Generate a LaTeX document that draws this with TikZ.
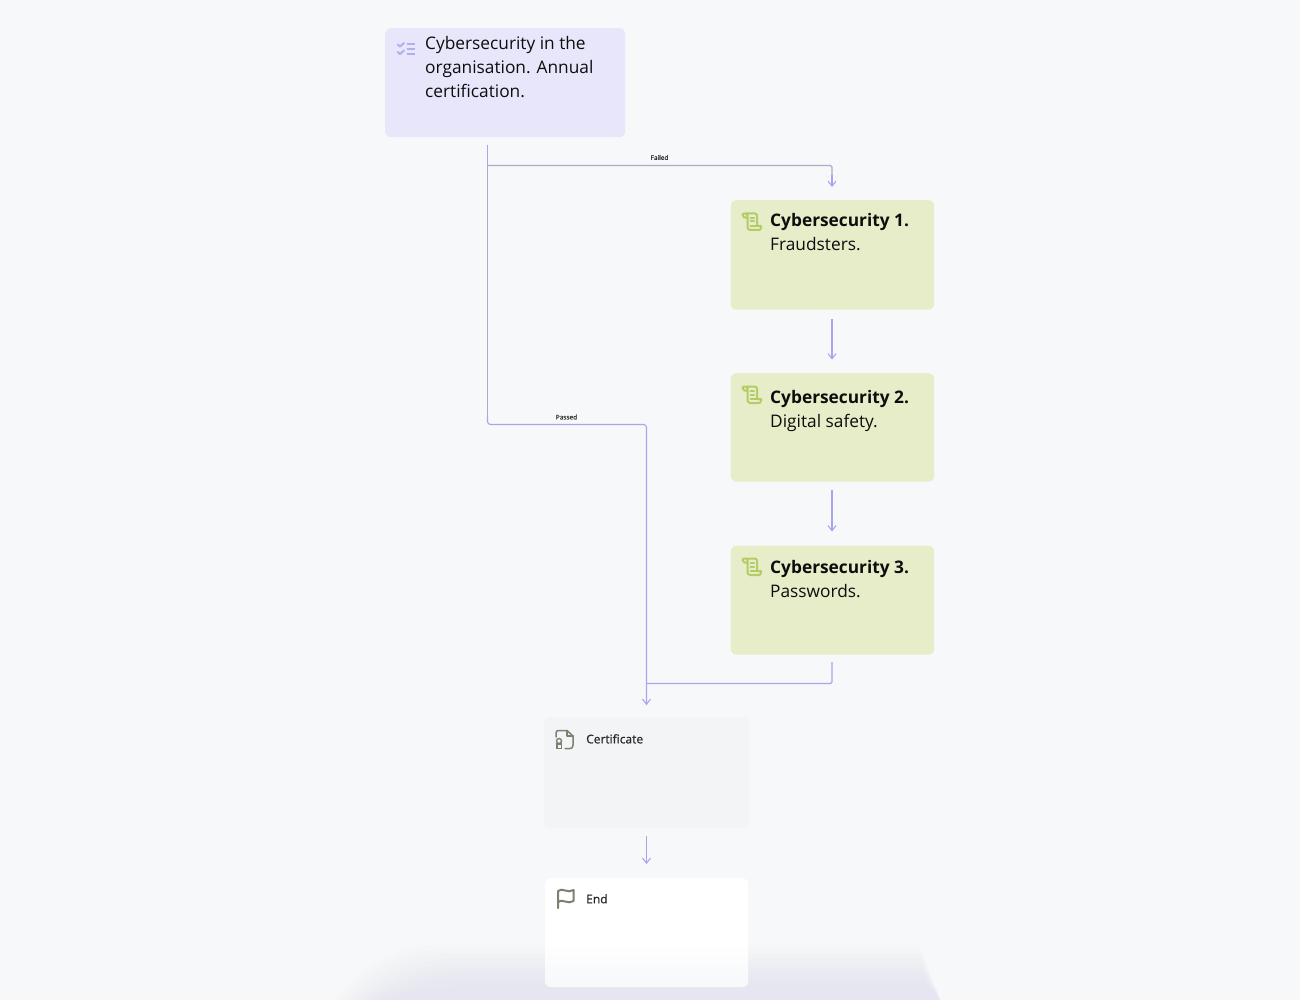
\documentclass[tikz,border=0pt]{standalone}
\usepackage{fontspec}
\setmainfont{Open Sans}
\newfontfamily\medf{Open Sans}[FakeBold=0.6]
\usetikzlibrary{arrows.meta,fadings}
\definecolor{bgc}{HTML}{F7F8FA}
\definecolor{lav}{HTML}{E8E6FB}
\definecolor{grn}{HTML}{E6EDC8}
\definecolor{cert}{HTML}{F3F4F6}
\definecolor{lnc}{HTML}{A5A6EE}
\definecolor{lng}{HTML}{A9ABC8}
\definecolor{icg}{HTML}{B4CC66}
\definecolor{icl}{HTML}{B0B0EE}
\definecolor{icd}{HTML}{7C8070}
\definecolor{shd}{HTML}{D6D6E4}
\tikzset{
  box/.style={rounded corners=6pt,draw=none,minimum width=#1,anchor=north west,inner sep=0pt},
  flow/.style={draw=lnc,line width=1.1pt},
  flowg/.style={draw=lng,line width=1.1pt},
  tip/.style={-{Straight Barb[length=5pt,width=8pt,line width=1.1pt]}},
  txt/.style={anchor=north west,inner sep=0pt,align=left,font=\fontsize{17.3}{24}\selectfont,text=black!95},
  small/.style={anchor=north west,inner sep=0pt,font=\fontsize{12}{16}\medf,text=black!85},
  tiny/.style={inner sep=0pt,font=\fontsize{6.5}{8}\medf,text=black!80},
  ico/.style={line width=2pt,line cap=round,line join=round}
}
\begin{document}
\begin{tikzpicture}[x=1pt,y=-1pt]
\useasboundingbox (0,0) rectangle (1300,1000);
\fill[bgc] (0,0) rectangle (1300,1000);
% bottom shadow
\foreach \i in {0,1,2,3,4,5,6,7,8,9}{
  \fill[shd,opacity=.055] ({335+6*\i},1000) .. controls ({350+6*\i},{978+2*\i}) and ({385+6*\i},{945+4.5*\i}) .. ({440+6*\i},{945+4.5*\i}) -- ({919+\i*.7},{945+4.5*\i}) -- (940,1000) -- cycle;
}
\fill[lav,opacity=.35] (385,1000) .. controls (400,992) and (430,989) .. (460,989) -- (936,989) -- (940,1000) -- cycle;
% boxes
\node[box=240pt,minimum height=109pt,fill=lav] (top) at (385,28) {};
\node[box=203.5pt,minimum height=109.5pt,fill=grn] (c1) at (730.5,200) {};
\node[box=203.5pt,minimum height=108.5pt,fill=grn] (c2) at (730.5,373) {};
\node[box=203.5pt,minimum height=109pt,fill=grn] (c3) at (730.5,545.5) {};
\node[box=205pt,minimum height=111pt,fill=cert] (cert) at (544,717) {};
\node[box=203pt,minimum height=109pt,fill=white] (end) at (545,878) {};
\fill[bgc,path fading=north,rounded corners=6pt] (545,945) rectangle (748,987);
% texts
\node[txt] (t0) at (425,36) {Cybersecurity in the\\organisation. Annual\\certification.};
\node[txt] (t1) at (770,213) {\textbf{Cybersecurity 1.}\\Fraudsters.};
\node[txt] (t2) at (770,390) {\textbf{Cybersecurity 2.}\\Digital safety.};
\node[txt] (t3) at (770,560) {\textbf{Cybersecurity 3.}\\Passwords.};
\node[small] (t4) at (586,734) {Certificate};
\node[small] (t5) at (586,894) {End};
% connector coordinates
\coordinate (s0) at (487.5,145);
\coordinate (f1) at (487.5,165.5);
\coordinate (f2) at (832,165.5);
\coordinate (f3) at (832,187);
\coordinate (f4) at (832,175);
\coordinate (p0) at (487.5,415);
\coordinate (p1) at (487.5,424.5);
\coordinate (p2) at (646.5,424.5);
\coordinate (p3) at (646.5,705);
\coordinate (p4) at (646.5,690);
\coordinate (j0) at (832,662);
\coordinate (j1) at (832,683.5);
\coordinate (j2) at (646.5,683.5);
% connectors
\draw[flowg,rounded corners=1.5pt] (f1) -- (f2) -- (f4);
\draw[flow,line width=1.4pt] (s0) -- (f1);
\draw[flow,tip] (f4) -- (f3);
\draw[flowg] (f1) -- (p0);
\draw[flow,rounded corners=3pt] (p0) -- (p1) -- (p2) -- (p3);
\draw[flow,tip] (p4) -- (p3);
\draw[flow,rounded corners=1.5pt] (j0) -- (j1) -- (j2);
\coordinate (a1) at (832,318.5); \coordinate (b1) at (832,359.5);
\coordinate (a2) at (832,490); \coordinate (b2) at (832,531.5);
\coordinate (a3) at (646.5,835.5); \coordinate (b3) at (646.5,864);
\draw[flow,tip] (a1) -- (b1);
\draw[flow,tip] (a2) -- (b2);
\draw[flow,tip] (a3) -- (b3);
% edge labels
\node[tiny] (lf) at (659.5,157.5) {Failed};
\node[tiny] (lp) at (566.5,417) {Passed};
% top icon
\begin{scope}[shift={(397,42)}]
\draw[icl,ico] (0.7,2.5) -- (3,4.5) -- (7,1) (0.7,10) -- (3,12) -- (7,8.5);
\draw[icl,ico,line width=2.4pt,line cap=butt] (9.5,2) -- (18,2) (9.5,7) -- (18,7) (9.5,12.2) -- (18,12.2);
\end{scope}
% scroll icons
\foreach \ix/\iy in {742/213, 742/386, 742/558}{
\begin{scope}[shift={(\ix,\iy)}]
\draw[icg,ico] (0.5,2) .. controls (0.5,0.5) and (2,0.5) .. (3.5,0.5) -- (13,0.5) .. controls (14.5,0.5) and (15,2) .. (15,3) -- (15,13) -- (19,13) -- (19,15) .. controls (19,17) and (17,17) .. (16,17) -- (8,17) .. controls (6,17) and (5.5,15) .. (5.5,14) -- (5.5,2.5) .. controls (5.5,0.8) and (3.5,0.5) .. (3.5,0.5) (0.5,2) .. controls (0.5,4) and (3,5) .. (5.5,5);
\draw[icg,ico] (8.5,5) -- (12,5) (8.5,8.5) -- (12,8.5);
\draw[icg,ico] (15,13) -- (8.5,13);
\end{scope}}
% certificate icon
\begin{scope}[shift={(556,730)}]
\draw[icd,ico,line width=1.5pt] (0,7) -- (0,3) .. controls (0,1) and (1,0.5) .. (3,0.5) -- (11,0.5) -- (17,6) -- (17,15) .. controls (17,17.5) and (16,18.5) .. (14,18.5) -- (9,18.5);
\draw[icd,ico,line width=1.5pt] (11,0.5) -- (11,6) -- (17,6);
\draw[icd,line width=1.4pt] (3,11) circle (2.5);
\draw[icd,line width=1.4pt] (0.8,14) rectangle (5.2,18.5);
\end{scope}
% flag icon
\begin{scope}[shift={(558,889)}]
\draw[icd,ico] (0,19) -- (0,2) .. controls (4,-2) and (10,5) .. (15.5,1) -- (15.5,12) .. controls (10,16) and (4,9) .. (0,13);
\end{scope}
\end{tikzpicture}
\end{document}
